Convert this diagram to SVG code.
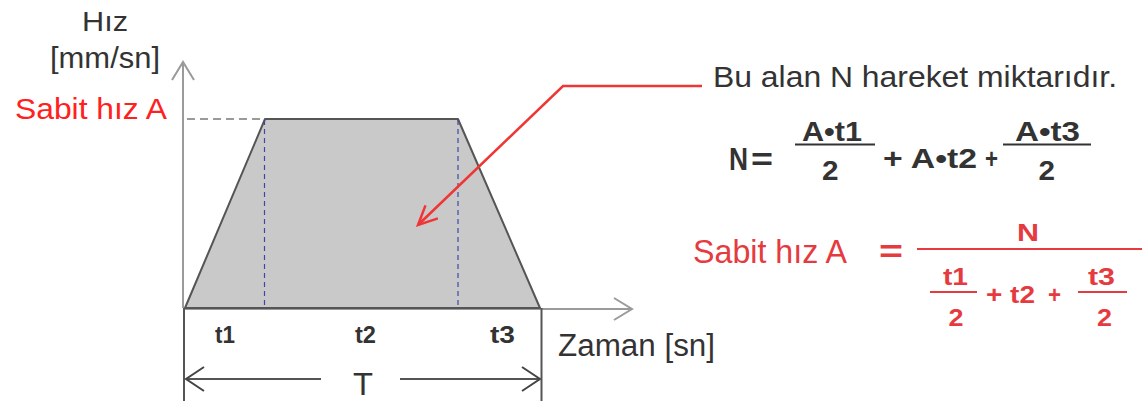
<svg xmlns="http://www.w3.org/2000/svg" width="1142" height="401" viewBox="0 0 1142 401">
<style>
text{font-family:"Liberation Sans",Arial,sans-serif}
.lbl{fill:#333}
.b{font-weight:bold}
.red{fill:#ff2020}
.fr{fill:#e53b40}
.ax{stroke:#9a9a9a;stroke-width:2;fill:none}
.dk{stroke:#555;stroke-width:2;fill:none}
.bar{stroke:#333;stroke-width:2}
.rbar{stroke:#e53b40;stroke-width:2}
</style>
<defs>
<marker id="mg" markerUnits="userSpaceOnUse" markerWidth="30" markerHeight="30" refX="19" refY="12" orient="auto">
<path d="M1,1 L19,12 L1,23" fill="none" stroke="#9a9a9a" stroke-width="2"/>
</marker>
<marker id="md" markerUnits="userSpaceOnUse" markerWidth="30" markerHeight="30" refX="19" refY="13" orient="auto">
<path d="M1,1 L19,13 L1,25" fill="none" stroke="#444" stroke-width="2"/>
</marker>
<marker id="mr" markerUnits="userSpaceOnUse" markerWidth="30" markerHeight="30" refX="20" refY="10" orient="auto">
<path d="M1,1 L20,10 L1,19" fill="none" stroke="#f03535" stroke-width="2.5"/>
</marker>
</defs>

<g id="axes">
<line class="ax" x1="183" y1="308" x2="183" y2="62" marker-end="url(#mg)"/>
<line class="ax" x1="183" y1="309" x2="632" y2="309" marker-end="url(#mg)"/>
<line x1="187" y1="119" x2="265" y2="119" stroke="#9a9a9a" stroke-width="2" stroke-dasharray="8,5"/>
</g>

<g id="trapezoid">
<polygon points="185,308 265,119 458,119 540,308" fill="#c9c9c9" stroke="#555" stroke-width="2" stroke-linejoin="round"/>
<line x1="264.5" y1="120" x2="264.5" y2="308" stroke="#3a48a8" stroke-width="1.2" stroke-dasharray="5,4"/>
<line x1="458" y1="120" x2="458" y2="308" stroke="#3a48a8" stroke-width="1.2" stroke-dasharray="5,4"/>
</g>

<g id="span-T">
<line class="dk" x1="184" y1="308" x2="184" y2="401"/>
<line class="dk" x1="541.5" y1="308" x2="541.5" y2="401"/>
<line class="dk" x1="321" y1="379" x2="186" y2="379" marker-end="url(#md)"/>
<line class="dk" x1="400" y1="379" x2="540" y2="379" marker-end="url(#md)"/>
<text class="lbl" x="353" y="395" font-size="32" textLength="20" lengthAdjust="spacingAndGlyphs">T</text>
</g>

<g id="labels">
<text class="lbl" x="82" y="31" font-size="28" textLength="46" lengthAdjust="spacingAndGlyphs">Hız</text>
<text class="lbl" x="50" y="68" font-size="30" textLength="110" lengthAdjust="spacingAndGlyphs">[mm/sn]</text>
<text class="red" x="15" y="119" font-size="30" textLength="152" lengthAdjust="spacingAndGlyphs">Sabit hız A</text>
<text class="lbl" x="558" y="356" font-size="31" textLength="157" lengthAdjust="spacingAndGlyphs">Zaman [sn]</text>
<text class="lbl b" x="215" y="343" font-size="23" textLength="20" lengthAdjust="spacingAndGlyphs">t1</text>
<text class="lbl b" x="355" y="343" font-size="23" textLength="21" lengthAdjust="spacingAndGlyphs">t2</text>
<text class="lbl b" x="490" y="343" font-size="23" textLength="25" lengthAdjust="spacingAndGlyphs">t3</text>
</g>

<g id="connectors">
<polyline points="702,86 563,86 418,225" fill="none" stroke="#f03535" stroke-width="2.5" marker-end="url(#mr)"/>
</g>

<g id="note">
<text class="lbl" x="713" y="87" font-size="29" textLength="404" lengthAdjust="spacingAndGlyphs">Bu alan N hareket miktarıdır.</text>
</g>

<g id="formula-N">
<text class="lbl b" x="729" y="170" font-size="32" textLength="19" lengthAdjust="spacingAndGlyphs">N</text>
<text class="lbl b" x="751" y="170" font-size="32" textLength="22" lengthAdjust="spacingAndGlyphs">=</text>
<text class="lbl b" x="802" y="140.5" font-size="28" textLength="60" lengthAdjust="spacingAndGlyphs">A•t1</text>
<line class="bar" x1="795" y1="144.5" x2="875" y2="144.5"/>
<text class="lbl b" x="822" y="180" font-size="28" textLength="16.5" lengthAdjust="spacingAndGlyphs">2</text>
<text class="lbl b" x="883" y="168" font-size="28" textLength="94" lengthAdjust="spacingAndGlyphs">+ A•t2</text>
<text class="lbl b" x="985" y="168" font-size="28" textLength="13" lengthAdjust="spacingAndGlyphs">+</text>
<text class="lbl b" x="1015" y="140.5" font-size="28" textLength="65" lengthAdjust="spacingAndGlyphs">A•t3</text>
<line class="bar" x1="1003" y1="144.5" x2="1091" y2="144.5"/>
<text class="lbl b" x="1038.5" y="180" font-size="28" textLength="16.5" lengthAdjust="spacingAndGlyphs">2</text>
</g>

<g id="formula-A">
<text class="fr" x="693" y="263" font-size="33" textLength="154" lengthAdjust="spacingAndGlyphs">Sabit hız A</text>
<text class="fr b" x="879" y="262" font-size="32" textLength="24" lengthAdjust="spacingAndGlyphs">=</text>
<text class="fr b" x="1017" y="241" font-size="24" textLength="22" lengthAdjust="spacingAndGlyphs">N</text>
<line class="rbar" x1="917" y1="249" x2="1142" y2="249"/>
<text class="fr b" x="943" y="285" font-size="24" textLength="25" lengthAdjust="spacingAndGlyphs">t1</text>
<line class="rbar" x1="930" y1="292" x2="977" y2="292"/>
<text class="fr b" x="948.5" y="326" font-size="24" textLength="15" lengthAdjust="spacingAndGlyphs">2</text>
<text class="fr b" x="986" y="303" font-size="24" textLength="49" lengthAdjust="spacingAndGlyphs">+ t2</text>
<text class="fr b" x="1048" y="303" font-size="24" textLength="13" lengthAdjust="spacingAndGlyphs">+</text>
<text class="fr b" x="1088" y="285" font-size="24" textLength="27" lengthAdjust="spacingAndGlyphs">t3</text>
<line class="rbar" x1="1078" y1="292" x2="1127" y2="292"/>
<text class="fr b" x="1097" y="326" font-size="24" textLength="15" lengthAdjust="spacingAndGlyphs">2</text>
</g>
</svg>
